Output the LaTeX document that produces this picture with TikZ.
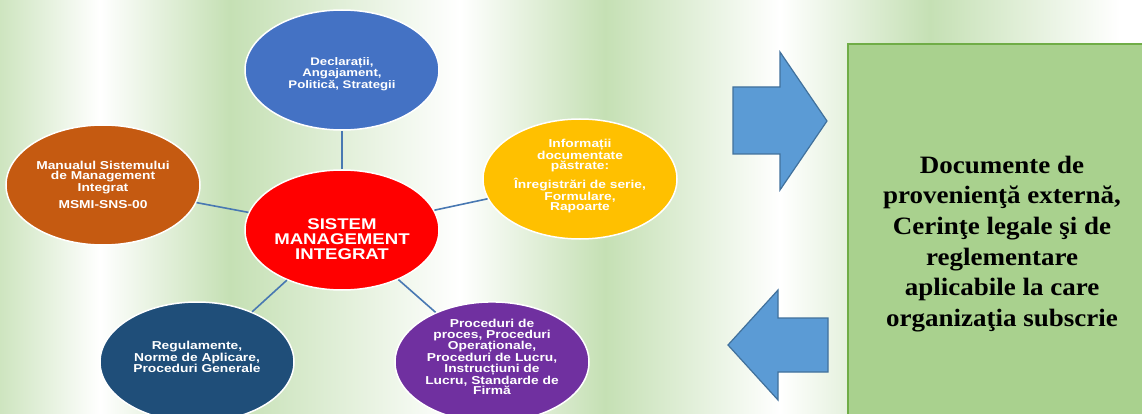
\documentclass[tikz,border=0pt]{standalone}
\usepackage{fontspec}
\setmainfont{Liberation Serif}
\setsansfont{Liberation Sans}
\newfontfamily\bubblefont{Liberation Sans}[FakeStretch=1.2]
\newfontfamily\boxfont{Liberation Serif}[FakeStretch=1.08]
\usepackage{tikz}
\usetikzlibrary{shapes.geometric}
\usepackage{xcolor}
\definecolor{bggreen}{RGB}{197,224,180}
\definecolor{cblue}{RGB}{68,114,196}
\definecolor{corange}{RGB}{197,90,17}
\definecolor{cyellow}{RGB}{255,192,0}
\definecolor{cred}{RGB}{255,0,0}
\definecolor{cnavy}{RGB}{31,78,121}
\definecolor{cpurple}{RGB}{112,48,160}
\definecolor{link}{RGB}{72,120,178}
\definecolor{arrfill}{RGB}{91,155,213}
\definecolor{arrline}{RGB}{65,113,156}
\definecolor{boxfill}{RGB}{169,209,142}
\definecolor{boxline}{RGB}{112,173,71}
\tikzset{
  sbubble/.style={ellipse,draw=white,line width=1.5pt,inner sep=0pt,
    minimum width=194pt,minimum height=120pt,text=white,align=center,
    font=\bubblefont\bfseries\fontsize{11.5}{10.3}\selectfont},
  slink/.style={link,line width=1.6pt},
  sarrow/.style={fill=arrfill,draw=arrline,line width=1.2pt,line join=miter},
  sbox/.style={fill=boxfill,draw=boxline,line width=2pt},
}

\begin{document}
\begin{tikzpicture}[x=1pt,y=-1pt]
  \useasboundingbox (0,0) rectangle (1142,414);
  \clip (0,0) rectangle (1142,414);
  % background stripes
  \shade[left color=bggreen!85,right color=white] (0,0) rectangle (100,414);
  \shade[left color=white,right color=bggreen] (100,0) rectangle (230,414);
  \shade[left color=bggreen,right color=white] (230,0) rectangle (460,414);
  \shade[left color=white,right color=bggreen] (460,0) rectangle (605,414);
  \shade[left color=bggreen,right color=white] (605,0) rectangle (780,414);
  \shade[left color=white,right color=bggreen] (780,0) rectangle (930,414);
  \shade[left color=bggreen,right color=white] (930,0) rectangle (1120,414);
  \fill[white] (1120,0) rectangle (1142,414);
  % bubbles
  \node[sbubble,fill=cred,font=\bubblefont\bfseries\fontsize{15.5}{15}\selectfont]
     (core) at (342,230) {\rule{0pt}{29pt}SISTEM\\MANAGEMENT\\INTEGRAT};
  \node[sbubble,fill=cblue,font=\bubblefont\bfseries\fontsize{11}{10.3}\selectfont]
     (decl) at (342,70) {\rule{0pt}{16pt}Declarații,\\Angajament,\\Politică, Strategii};
  \node[sbubble,fill=corange] (manual) at (103,185)
     {Manualul Sistemului\\de Management\\Integrat\\[6pt]MSMI-SNS-00};
  \node[sbubble,fill=cyellow] (info) at (580,179)
     {Informații\\documentate\\păstrate:\\[5pt]Înregistrări de serie,\\Formulare,\\Rapoarte\rule[-8pt]{0pt}{8pt}};
  \node[sbubble,fill=cnavy] (regul) at (197,362)
     {Regulamente,\\Norme de Aplicare,\\Proceduri Generale\rule[-10pt]{0pt}{10pt}};
  \node[sbubble,fill=cpurple] (proc) at (492,362)
     {Proceduri de\\proces, Proceduri\\Operaționale,\\Proceduri de Lucru,\\Instrucțiuni de\\Lucru, Standarde de\\Firmă\rule[-10pt]{0pt}{10pt}};
  \foreach \n in {decl,manual,info,regul,proc} {\draw[slink] (core) -- (\n);}
  % arrows
  \draw[sarrow] (733,87) -- (780,87) -- (780,52) -- (827,121)
     -- (780,190) -- (780,154) -- (733,154) -- cycle;
  \draw[sarrow] (828,318) -- (778,318) -- (778,290) -- (728,345)
     -- (778,400) -- (778,372) -- (828,372) -- cycle;
  % external documents box
  \draw[sbox] (848,44) rectangle (1160,430);
  \node[align=center,font=\boxfont\bfseries\fontsize{25}{30.7}\selectfont] (extdoc) at (1002,244)
     {Documente de\\provenienţă externă,\\Cerinţe legale şi de\\reglementare\\aplicabile la care\\organizaţia subscrie};
\end{tikzpicture}
\end{document}
